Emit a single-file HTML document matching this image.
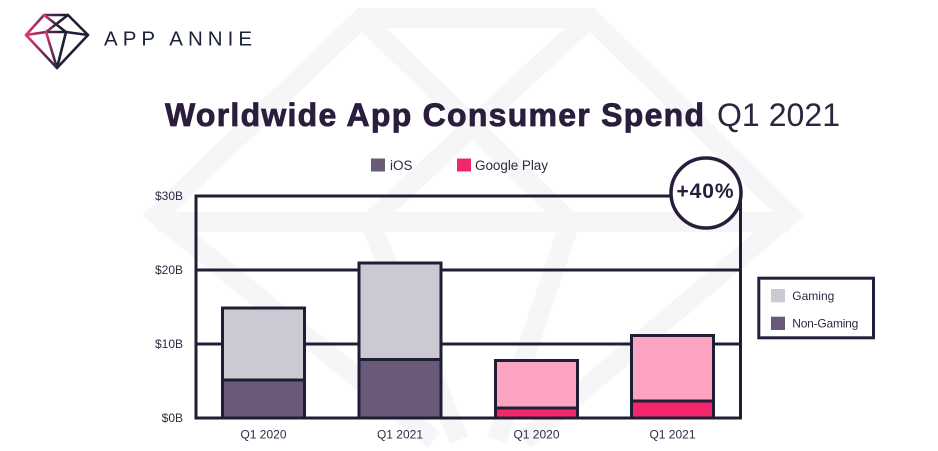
<!DOCTYPE html>
<html>
<head>
<meta charset="utf-8">
<style>
  html, body { margin: 0; padding: 0; background: #ffffff; }
  body { width: 938px; height: 451px; overflow: hidden; }
  svg { display: block; font-family: "Liberation Sans", sans-serif; overflow: hidden; }
</style>
</head>
<body>
<svg width="938" height="451" viewBox="0 0 938 451" xmlns="http://www.w3.org/2000/svg">
  <defs>
    <linearGradient id="lg" x1="0" y1="0" x2="1" y2="0">
      <stop offset="0" stop-color="#e8336f"/>
      <stop offset="0.35" stop-color="#5a2b55"/>
      <stop offset="0.6" stop-color="#1e2036"/>
      <stop offset="1" stop-color="#1e2036"/>
    </linearGradient>
    <clipPath id="cp"><rect x="0" y="0" width="938" height="451"/></clipPath>
  </defs>
  <rect width="938" height="451" fill="#ffffff"/>

  <!-- watermark gem -->
  <g fill="none" stroke="#f6f6f8" stroke-width="20" stroke-linejoin="miter" clip-path="url(#cp)">
    <polyline points="434,440 157,215 362,18 590,18 790,215 524,440"/>
    <polyline points="157,222 790,222"/>
    <polyline points="362,18 570,222"/>
    <polyline points="590,18 370,222"/>
    <polyline points="370,222 459,440"/>
    <polyline points="570,222 497,440"/>
  </g>

  <!-- logo -->
  <g fill="none" stroke="url(#lg)" stroke-width="2.6" stroke-linejoin="round" stroke-linecap="round">
    <path d="M44,15 L68,15 L88,35 L57,68 L26,35 Z"/>
    <path d="M44,15 L66,32 M68,15 L46,32"/>
    <path d="M26,35 L46,32 L66,32 L88,35"/>
    <path d="M46,32 L57,68 M66,32 L57,68"/>
  </g>
  <text x="104" y="45.5" font-size="20.5" fill="#1c2236" textLength="148" lengthAdjust="spacing">APP ANNIE</text>

  <!-- title -->
  <text x="165" y="126" font-size="32" font-weight="bold" fill="#2b1e3d" stroke="#2b1e3d" stroke-width="0.8" textLength="539" lengthAdjust="spacing">Worldwide App Consumer Spend</text>
  <text x="717" y="126" font-size="32" fill="#2b2640" textLength="123" lengthAdjust="spacing">Q1 2021</text>

  <!-- top legend -->
  <rect x="371" y="158.5" width="14" height="13" fill="#6a5c78"/>
  <text x="390" y="170" font-size="13.5" fill="#2b2d40">iOS</text>
  <rect x="457" y="158.5" width="14" height="13" fill="#f0286a"/>
  <text x="475" y="170" font-size="13.5" fill="#2b2d40" textLength="73" lengthAdjust="spacing">Google Play</text>

  <!-- y labels -->
  <g font-size="12" fill="#2b2d40" text-anchor="end">
    <text x="183" y="200">$30B</text>
    <text x="183" y="274">$20B</text>
    <text x="183" y="348">$10B</text>
    <text x="183" y="422">$0B</text>
  </g>

  <!-- grid / axes -->
  <g stroke="#1d2034" stroke-width="3" fill="none">
    <line x1="196" y1="196" x2="705" y2="196"/>
    <line x1="196" y1="270" x2="740.5" y2="270"/>
    <line x1="196" y1="344" x2="740.5" y2="344"/>
    <line x1="196" y1="194.5" x2="196" y2="419.5"/>
    <line x1="740.5" y1="198" x2="740.5" y2="419.5"/>
  </g>

  <!-- bars -->
  <g stroke="#1d2034" stroke-width="3">
    <rect x="222.5" y="308" width="82" height="72" fill="#cdc9d4"/>
    <rect x="222.5" y="380" width="82" height="38" fill="#6a5978"/>
    <rect x="359" y="263" width="82" height="96.5" fill="#cdc9d4"/>
    <rect x="359" y="359.5" width="82" height="58.5" fill="#6a5978"/>
    <rect x="495.5" y="360.5" width="82" height="47.5" fill="#fba3c1"/>
    <rect x="495.5" y="408" width="82" height="10" fill="#f5276b"/>
    <rect x="631.5" y="335.5" width="82" height="65.5" fill="#fba3c1"/>
    <rect x="631.5" y="401" width="82" height="17" fill="#f5276b"/>
  </g>
  <line x1="194.5" y1="418" x2="742" y2="418" stroke="#1d2034" stroke-width="3"/>

  <!-- x labels -->
  <g font-size="12" fill="#2b2d40" text-anchor="middle">
    <text x="263.5" y="438.5">Q1 2020</text>
    <text x="400" y="438.5">Q1 2021</text>
    <text x="536.5" y="438.5">Q1 2020</text>
    <text x="672.5" y="438.5">Q1 2021</text>
  </g>

  <!-- +40% badge -->
  <circle cx="706" cy="193" r="35" fill="#ffffff" stroke="#2a1d3b" stroke-width="3.5"/>
  <text x="705" y="198" font-size="21" font-weight="bold" fill="#2a1d3b" text-anchor="middle" textLength="57" lengthAdjust="spacing">+40%</text>

  <!-- right legend -->
  <rect x="758.8" y="278.2" width="114.7" height="59.6" fill="#ffffff" stroke="#2a1d3b" stroke-width="3"/>
  <rect x="771" y="289" width="14" height="13.3" fill="#cdc9d4"/>
  <rect x="771" y="316.7" width="14" height="13.3" fill="#6a5978"/>
  <g font-size="12" fill="#2b2d40">
    <text x="792.3" y="300">Gaming</text>
    <text x="792.3" y="327.3" textLength="66" lengthAdjust="spacing">Non-Gaming</text>
  </g>
</svg>
</body>
</html>
